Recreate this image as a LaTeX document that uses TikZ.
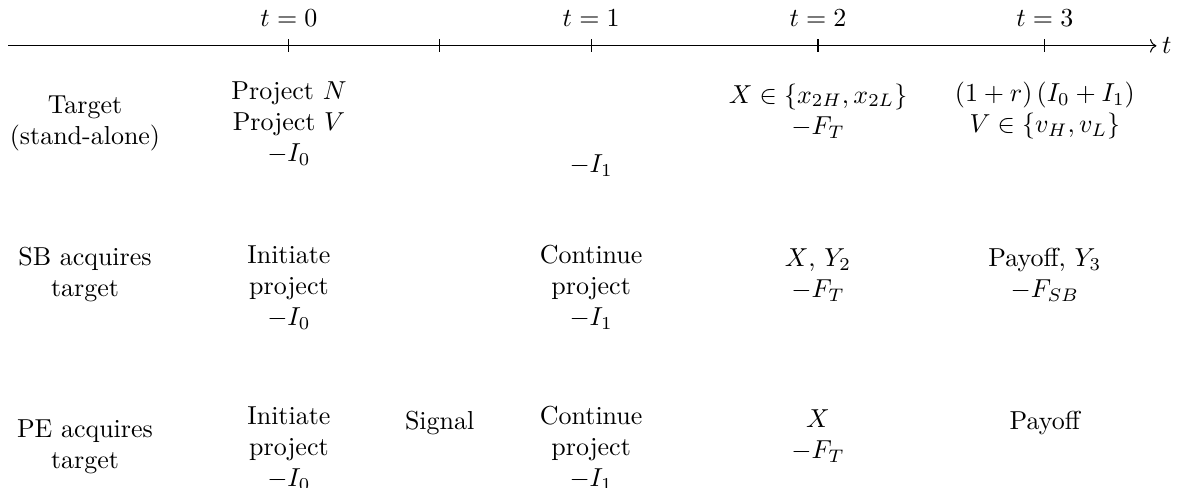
\documentclass[tikz,border=0pt]{standalone}
\usepackage{amsmath,amssymb}
\usetikzlibrary{arrows.meta,positioning}
\begin{document}
\begin{tikzpicture}[
    stack/.style={align=center, inner sep=0pt},
    tlabel/.style={inner sep=0pt}]
\useasboundingbox (0,0) rectangle (16.05,-6.6);

% time axis
\coordinate (ax0) at (0.11,-0.62);
\coordinate (ax1) at (15.65,-0.62);
\draw[->] (ax0) -- (ax1);
\node[right=2pt of ax1, inner sep=0pt] (tlab) {$t$};
\foreach \x/\n in {3.91/0, 5.95/h, 8.0/1, 11.07/2, 14.14/3} {
    \coordinate (tk\n) at (\x,-0.62);
    \draw (tk\n) ++(0,0.09) -- ++(0,-0.18);
}
\foreach \n in {0,1,2,3} {\node[tlabel, above=0.26cm of tk\n] (lt\n) {$t=\n$};}

% stand-alone target
\node[stack] (lab1) at (1.15,-1.67) {Target\\(stand-alone)};
\node[stack] (a0) at (3.91,-1.67) {Project $N$\\Project $V$\\$-I_0$};
\node[stack] (a1) at (8.0,-2.24) {$-I_1$};
\node[stack] (a2) at (11.07,-1.5) {$X\in\{x_{2H},x_{2L}\}$\\$-F_T$};
\node[stack] (a3) at (14.14,-1.5) {$(1+r)\,(I_0+I_1)$\\$V\in\{v_H,v_L\}$};

% SB acquires
\node[stack] (lab2) at (1.15,-3.72) {SB acquires\\target};
\node[stack] (b0) at (3.91,-3.89) {Initiate\\project\\$-I_0$};
\node[stack] (b1) at (8.0,-3.89) {Continue\\project\\$-I_1$};
\node[stack] (b2) at (11.07,-3.72) {$X$, $Y_2$\\$-F_T$};
\node[stack] (b3) at (14.14,-3.72) {Payoff, $Y_3$\\$-F_{SB}$};

% PE acquires
\node[stack] (lab3) at (1.15,-6.05) {PE acquires\\target};
\node[stack] (c0) at (3.91,-6.07) {Initiate\\project\\$-I_0$};
\node[stack] (sig) at (5.95,-5.73) {Signal};
\node[stack] (c1) at (8.0,-6.07) {Continue\\project\\$-I_1$};
\node[stack] (c2) at (11.07,-5.9) {$X$\\$-F_T$};
\node[stack] (c3) at (14.14,-5.73) {Payoff};
\end{tikzpicture}
\end{document}
